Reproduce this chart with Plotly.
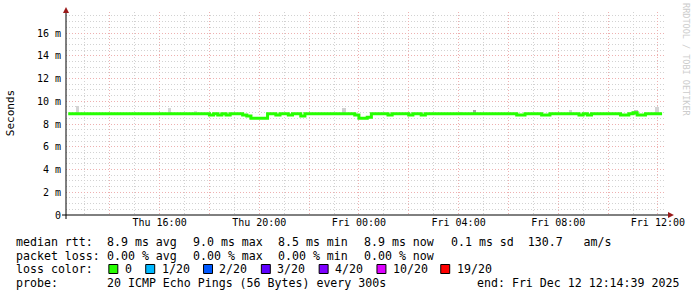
import pandas as pd
import plotly.graph_objects as go

# ---------------- data ----------------
start_time = "2025-12-11 12:20:00"
step_minutes = 10
median_ms = [
    8.9, 8.9, 8.9, 8.9, 8.9, 8.9, 8.9, 8.9, 8.9, 8.9, 8.9, 8.9,
    8.9, 8.9, 8.9, 8.9, 8.9, 8.9, 8.9, 8.9, 8.9, 8.9, 8.9, 8.9,
    8.9, 8.9, 8.9, 8.9, 8.9, 8.9, 8.9, 8.9, 8.9, 8.9, 8.8, 8.9,
    8.8, 8.9, 8.8, 8.9, 8.9, 8.9, 8.8, 8.7, 8.5, 8.5, 8.5, 8.5,
    8.9, 8.9, 8.8, 8.9, 8.9, 8.8, 8.9, 8.9, 8.7, 8.9, 8.9, 8.9,
    8.9, 8.9, 8.9, 8.9, 8.9, 8.9, 8.9, 8.9, 8.9, 8.8, 8.5, 8.5,
    8.6, 8.9, 8.9, 8.9, 8.9, 8.8, 8.9, 8.9, 8.9, 8.9, 8.8, 8.9,
    8.9, 8.8, 8.9, 8.9, 8.9, 8.9, 8.9, 8.9, 8.9, 8.9, 8.9, 8.9,
    8.9, 8.9, 8.9, 8.9, 8.9, 8.9, 8.9, 8.9, 8.9, 8.9, 8.9, 8.9,
    8.8, 8.8, 8.9, 8.9, 8.9, 8.9, 8.8, 8.8, 8.9, 8.9, 8.9, 8.9,
    8.9, 8.9, 8.9, 8.8, 8.9, 8.8, 8.9, 8.9, 8.9, 8.9, 8.9, 8.9,
    8.9, 8.8, 8.8, 8.9, 9.0, 8.8, 8.8, 8.9, 8.9, 8.9, 8.9, 8.9,
]

smoke_times = ["2025-12-11 12:43", "2025-12-11 16:24", "2025-12-11 17:26",
               "2025-12-11 23:24", "2025-12-12 02:00", "2025-12-12 04:07",
               "2025-12-12 04:38", "2025-12-12 08:29", "2025-12-12 11:07",
               "2025-12-12 11:58"]
smoke_top_ms = [9.6, 9.45, 9.1, 9.45, 9.05, 9.05, 9.2, 9.2, 9.2, 9.5]
smoke_base_ms = [8.8, 8.8, 8.8, 8.8, 8.8, 8.8, 8.8, 8.8, 8.8, 8.8]
smoke_colors = ["#d4d4d4", "#d6d6d6", "#dcdcdc", "#d0d0d0", "#dadada",
                "#dadada", "#a8a8a8", "#d2d2d2", "#c0c0c0", "#d4d4d4"]

x_start = "2025-12-11 12:14:39"
x_end = "2025-12-12 12:14:39"
grid_major_times = pd.date_range("2025-12-11 14:00", "2025-12-12 12:00", freq="2h")
label_times = ["2025-12-11 16:00", "2025-12-11 20:00", "2025-12-12 00:00",
               "2025-12-12 04:00", "2025-12-12 08:00", "2025-12-12 12:00"]
label_texts = ["Thu 16:00", "Thu 20:00", "Fri 00:00", "Fri 04:00", "Fri 08:00", "Fri 12:00"]

y_tick_vals = [0, 2, 4, 6, 8, 10, 12, 14, 16]
y_tick_text = ["0", "2 m", "4 m", "6 m", "8 m", "10 m", "12 m", "14 m", "16 m"]

rtt_stats = ["8.9 ms avg", "9.0 ms max", "8.5 ms min", "8.9 ms now", "0.1 ms sd  130.7   am/s"]
loss_stats = ["0.00 % avg", "0.00 % max", "0.00 % min", "0.00 % now"]
loss_labels = ["0", "1/20", "2/20", "3/20", "4/20", "10/20", "19/20"]
loss_colors = ["#26ff00", "#00b8ff", "#0059ff", "#5e00ff", "#7e00ff", "#dd00ff", "#ff0000"]
probe_text = "20 ICMP Echo Pings (56 Bytes) every 300s"
end_text = "end: Fri Dec 12 12:14:39 2025"

# ---------------- layout geometry (pixels) ----------------
W, H = 697, 297
L, R, T, B = 66, 666, 12, 215
PW, PH = R - L, B - T


def px(x):
    return (x - L) / PW


def py(y):
    return (B - y) / PH


times = pd.date_range(start_time, periods=len(median_ms), freq=f"{step_minutes}min")

fig = go.Figure()

smoke_h = [t - b for t, b in zip(smoke_top_ms, smoke_base_ms)]
fig.add_trace(go.Bar(
    x=pd.to_datetime(smoke_times), y=smoke_h, base=smoke_base_ms,
    width=8 * 60 * 1000, marker=dict(color=smoke_colors, line=dict(width=0)),
    showlegend=False, hoverinfo="skip"))

fig.add_trace(go.Scatter(
    x=times, y=median_ms, mode="lines", line=dict(color=loss_colors[0], width=3, shape="hv"),
    showlegend=False))

mono = "DejaVu Sans Mono"
major_grid = "#eeb0b0"
minor_grid = "#d2d2d2"
dash = "1px,2px"
fig.update_layout(
    width=W, height=H,
    margin=dict(l=L, r=W - R, t=T, b=H - B, pad=0),
    paper_bgcolor="white", plot_bgcolor="white",
    bargap=0,
    font=dict(family=mono, size=10, color="#000000"),
    xaxis=dict(
        type="date", range=[x_start, x_end],
        tickmode="array", tickvals=list(grid_major_times),
        ticktext=[label_texts[label_times.index(t.strftime("%Y-%m-%d %H:%M"))]
                  if t.strftime("%Y-%m-%d %H:%M") in label_times else ""
                  for t in grid_major_times],
        showgrid=True, gridcolor=major_grid, griddash=dash, gridwidth=1,
        minor=dict(dtick=3600000, tick0="2025-12-11 13:00", showgrid=True,
                   gridcolor=minor_grid, griddash=dash, gridwidth=1),
        showline=False, zeroline=False, ticks="",
        tickfont=dict(family=mono, size=10, color="#000000"),
        fixedrange=True,
    ),
    yaxis=dict(
        range=[0, PH / 11.375],
        tickmode="array", tickvals=y_tick_vals, ticktext=y_tick_text,
        showgrid=True, gridcolor=major_grid, griddash=dash, gridwidth=1,
        minor=dict(dtick=0.5, tick0=0, showgrid=True,
                   gridcolor=minor_grid, griddash=dash, gridwidth=1),
        showline=False, zeroline=False, ticks="",
        ticklabelstandoff=4,
        tickfont=dict(family=mono, size=10, color="#000000"),
        fixedrange=True,
    ),
)

shapes = []
# axes
shapes.append(dict(type="line", xref="paper", yref="paper", x0=px(62), x1=px(672), y0=0, y1=0,
                   line=dict(color="#000000", width=1)))
shapes.append(dict(type="line", xref="paper", yref="paper", x0=0, x1=0, y0=py(219), y1=py(11),
                   line=dict(color="#000000", width=1)))
# arrow heads
shapes.append(dict(type="path", xref="paper", yref="paper",
                   path=f"M {px(670)} {py(212)} L {px(676)} {py(215)} L {px(670)} {py(218)} Z",
                   fillcolor="#9a1a1a", line=dict(color="#9a1a1a", width=0)))
shapes.append(dict(type="path", xref="paper", yref="paper",
                   path=f"M {px(63)} {py(13)} L {px(66)} {py(7)} L {px(69)} {py(13)} Z",
                   fillcolor="#9a1a1a", line=dict(color="#9a1a1a", width=0)))

ann = []


def text(x, y, s, size=11.6, color="#000000", **kw):
    ann.append(dict(xref="paper", yref="paper", x=px(x), y=py(y), text=s, showarrow=False,
                    xanchor="left", yanchor="middle", font=dict(family=mono, size=size, color=color),
                    borderpad=0, **kw))


row_y = [241.5, 255.5, 269, 283]
col_x = [107, 193, 279, 365, 452]
text(15, row_y[0], "median rtt:")
for cx, s in zip(col_x, rtt_stats):
    text(cx - 1, row_y[0], s)
text(15, row_y[1], "packet loss:")
for cx, s in zip(col_x, loss_stats):
    text(cx - 1, row_y[1], s)
text(15, row_y[2], "loss color:")
box_x = [109, 146, 204, 262, 320, 378, 442]
for bx, lab, col in zip(box_x, loss_labels, loss_colors):
    shapes.append(dict(type="rect", xref="paper", yref="paper",
                       x0=px(bx), x1=px(bx + 9), y0=py(273.5), y1=py(264.5),
                       fillcolor=col, line=dict(color="#000000", width=1)))
    text(bx + 15, row_y[2], lab)
text(15, row_y[3], "probe:")
text(106, row_y[3], probe_text)
text(477, row_y[3], end_text)

# y title
ann.append(dict(xref="paper", yref="paper", x=px(11), y=py(113), text="Seconds", showarrow=False,
                textangle=-90, xanchor="center", yanchor="middle",
                font=dict(family=mono, size=11, color="#000000")))
# watermark
ann.append(dict(xref="paper", yref="paper", x=px(688), y=py(60), text="RRDTOOL / TOBI OETIKER",
                showarrow=False, textangle=90, xanchor="center", yanchor="middle",
                font=dict(family=mono, size=8.5, color="#cccccc")))

fig.update_layout(shapes=shapes, annotations=ann)
fig.write_html("out.html")
